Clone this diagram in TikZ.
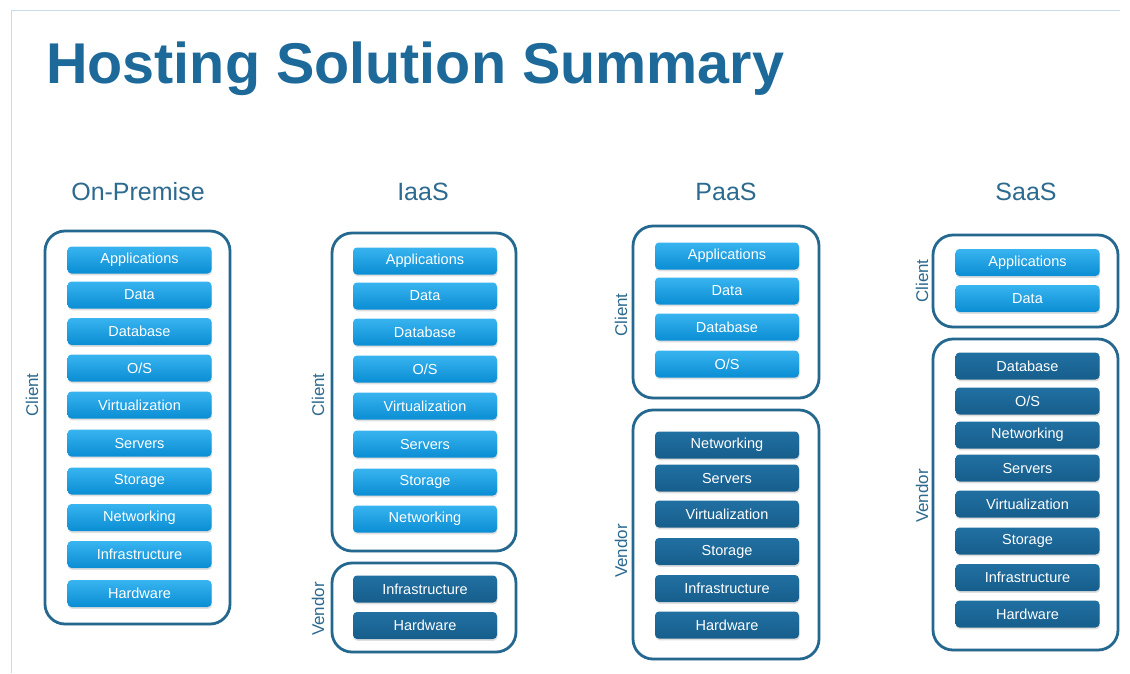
\documentclass[tikz,border=0pt]{standalone}
\usepackage{fontspec}
\setmainfont{Liberation Sans}
\usetikzlibrary{shadows}
\definecolor{titleblue}{HTML}{1D6A9A}
\definecolor{headblue}{HTML}{2D6A8F}
\definecolor{framecol}{HTML}{246890}
\definecolor{edgeline}{HTML}{C9DBEA}
\definecolor{lighttop}{HTML}{38B4F0}
\definecolor{lightbot}{HTML}{0A8DD3}
\definecolor{darktop}{HTML}{2170A2}
\definecolor{darkbot}{HTML}{165E8C}
\tikzset{
  layerbox/.style={rectangle, rounded corners=4pt, minimum width=144pt, minimum height=27pt,
    inner sep=0pt, text=white, font=\fontsize{14.5}{15}\selectfont,
    drop shadow={opacity=0.25, shadow xshift=0.6pt, shadow yshift=-1.8pt}},
  lightbox/.style={layerbox, top color=lighttop, bottom color=lightbot},
  darkbox/.style={layerbox, top color=darktop, bottom color=darkbot},
  frame/.style={rectangle, rounded corners=20pt, draw=framecol, line width=2.8pt, fill=white,
    inner sep=0pt, drop shadow={opacity=0.15, shadow xshift=0.5pt, shadow yshift=-1.5pt}},
  heading/.style={text=headblue, font=\fontsize{25}{28}\selectfont},
  side/.style={text=headblue, font=\fontsize{17}{19}\selectfont, rotate=90},
}
\newcommand\lbx[4]{\node[lightbox] (#1) at (#2,#3) {#4};}
\newcommand\dbx[4]{\node[darkbox] (#1) at (#2,#3) {#4};}
\newcommand\frm[5]{\node[frame, minimum width=#4pt, minimum height=#5pt] (#1) at (#2,#3) {};}
\begin{document}
\begin{tikzpicture}[x=1pt, y=-1pt]
\useasboundingbox[fill=white] (0,0) rectangle (1130,673);
% slide edges
\coordinate (tl) at (11,10);
\coordinate (tr) at (1120,10);
\coordinate (bl) at (11,673);
\draw[edgeline, line width=1pt] (tr) -- (tl) -- (bl);

% title
\node[anchor=base west, inner sep=0pt, text=titleblue, font=\fontsize{57.5}{60}\selectfont\bfseries] (title) at (46,83) {Hosting Solution Summary};

% column headings
\node[heading] (hOP) at (138,192) {On-Premise};
\node[heading] (hIaaS) at (423,192) {IaaS};
\node[heading] (hPaaS) at (726,192) {PaaS};
\node[heading] (hSaaS) at (1026,192) {SaaS};

% On-Premise
\frm{opC}{137.5}{427.5}{185}{393}
\node[side] (opCl) at (32,395) {Client};
\lbx{op1}{139.5}{260}{Applications}
\lbx{op2}{139.5}{295}{Data}
\lbx{op3}{139.5}{331.5}{Database}
\lbx{op4}{139.5}{368}{O/S}
\lbx{op5}{139.5}{405}{Virtualization}
\lbx{op6}{139.5}{443}{Servers}
\lbx{op7}{139.5}{481}{Storage}
\lbx{op8}{139.5}{517.5}{Networking}
\lbx{op9}{139.5}{554.5}{Infrastructure}
\lbx{op10}{139.5}{593.5}{Hardware}

% IaaS
\frm{iaC}{424}{392}{184}{318}
\frm{iaV}{424}{607.5}{184}{89}
\node[side] (iaCl) at (318,395) {Client};
\node[side] (iaVl) at (318,609) {Vendor};
\lbx{ia1}{425}{261}{Applications}
\lbx{ia2}{425}{296}{Data}
\lbx{ia3}{425}{332}{Database}
\lbx{ia4}{425}{369}{O/S}
\lbx{ia5}{425}{406}{Virtualization}
\lbx{ia6}{425}{444}{Servers}
\lbx{ia7}{425}{482}{Storage}
\lbx{ia8}{425}{519}{Networking}
\dbx{ia9}{425}{589}{Infrastructure}
\dbx{ia10}{425}{625.5}{Hardware}

% PaaS
\frm{paC}{726}{312}{186}{172}
\frm{paV}{726}{534.5}{186}{249}
\node[side] (paCl) at (621,315) {Client};
\node[side] (paVl) at (621,551) {Vendor};
\lbx{pa1}{727}{256}{Applications}
\lbx{pa2}{727}{291}{Data}
\lbx{pa3}{727}{327}{Database}
\lbx{pa4}{727}{364}{O/S}
\dbx{pa5}{727}{445}{Networking}
\dbx{pa6}{727}{478}{Servers}
\dbx{pa7}{727}{514}{Virtualization}
\dbx{pa8}{727}{551.5}{Storage}
\dbx{pa9}{727}{588.5}{Infrastructure}
\dbx{pa10}{727}{625}{Hardware}

% SaaS
\frm{saC}{1025.5}{281}{185}{92}
\frm{saV}{1025.5}{494.5}{185}{311}
\node[side] (saCl) at (922,281) {Client};
\node[side] (saVl) at (922,496) {Vendor};
\lbx{sa1}{1027.5}{262.5}{Applications}
\lbx{sa2}{1027.5}{298.5}{Data}
\dbx{sa3}{1027.5}{366}{Database}
\dbx{sa4}{1027.5}{401}{O/S}
\dbx{sa5}{1027.5}{435}{Networking}
\dbx{sa6}{1027.5}{468}{Servers}
\dbx{sa7}{1027.5}{504}{Virtualization}
\dbx{sa8}{1027.5}{541}{Storage}
\dbx{sa9}{1027.5}{577.5}{Infrastructure}
\dbx{sa10}{1027.5}{614}{Hardware}
\end{tikzpicture}
\end{document}
